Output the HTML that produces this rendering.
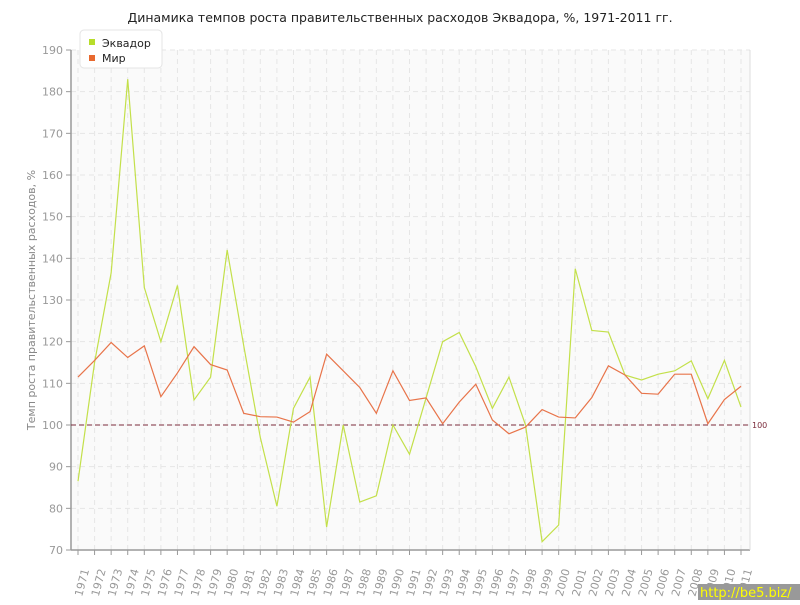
<!DOCTYPE html>
<html><head><meta charset="utf-8"><style>
body{margin:0;background:#fff;}
svg text{font-family:"DejaVu Sans","Liberation Sans",sans-serif;}
</style></head><body>
<svg id="s" width="800" height="600" xmlns="http://www.w3.org/2000/svg">
<rect width="800" height="600" fill="#fff"/>
<rect x="71" y="50" width="679" height="500" fill="#fafafa"/>
<g id="grid"></g>
<line x1="71" y1="50" x2="71" y2="550" stroke="#999" stroke-width="1.5"/>
<line x1="71" y1="550" x2="750" y2="550" stroke="#999" stroke-width="1.5"/>
<line x1="750" y1="50" x2="750" y2="550" stroke="#ddd"/>
<line x1="71" y1="425" x2="750" y2="425" stroke="#7a2a3a" stroke-dasharray="5,3"/>
<text x="752" y="428" font-size="8" fill="#7a2a3a">100</text>
<g id="series"></g>
<text x="400" y="22" font-size="12.5" text-anchor="middle" fill="#222">Динамика темпов роста правительственных расходов Эквадора, %, 1971-2011 гг.</text>
<text transform="translate(35,300) rotate(-90)" font-size="11" text-anchor="middle" fill="#888">Темп роста правительственных расходов, %</text>
<rect x="80" y="30" width="82" height="38" rx="4" fill="#fff" stroke="#e4e4e4"/>
<rect x="89" y="39" width="6" height="6" fill="#b7dd2a"/>
<text x="102" y="47" font-size="11" fill="#222">Эквадор</text>
<rect x="89" y="55" width="6" height="6" fill="#e8692f"/>
<text x="102" y="62" font-size="11" fill="#222">Мир</text>
<rect x="698" y="584" width="102" height="16" fill="#999"/>
<text x="700" y="597" font-size="13" fill="#ff0">http://be5.biz/</text>
</svg>
<script>
var e=[86.5,115,136.5,183,133,120,133.5,106,111.5,142,119,97,80.5,104,111.5,75.5,100,81.5,83,100,93,106.5,120,122.2,114,104,111.5,100,72,76,137.5,122.7,122.3,112,110.8,112.2,113,115.4,106.3,115.5,104.3];
var w=[111.5,115.5,119.8,116.2,119,106.8,112.5,118.8,114.5,113.2,102.8,102,101.9,100.7,103.2,117,113,109,102.8,113,105.9,106.5,100.3,105.5,109.8,101.2,97.9,99.5,103.7,101.9,101.7,106.6,114.2,112,107.6,107.4,112.2,112.2,100.3,106.1,109.3];
function X(i){return 78+i*16.575;}function Y(v){return 550-(v-70)*500/120;}
var g='',ns='';
for(var v=70;v<=190;v+=10){var y=Y(v);if(v>70)g+='<line x1="71" x2="750" y1="'+y+'" y2="'+y+'" stroke="#e6e6e6" stroke-dasharray="5,4"/>';g+='<line x1="66" x2="71" y1="'+y+'" y2="'+y+'" stroke="#999"/><text x="63" y="'+(y+4)+'" font-size="11" fill="#999" text-anchor="end">'+v+'</text>';}
for(var i=0;i<41;i++){var x=X(i);g+='<line x1="'+x+'" x2="'+x+'" y1="50" y2="550" stroke="#e6e6e6" stroke-dasharray="5,4"/><line x1="'+x+'" x2="'+x+'" y1="550" y2="555" stroke="#999"/><text transform="translate('+(x+4)+',597) rotate(-75)" font-size="11" fill="#999">'+(1971+i)+'</text>';}
document.getElementById('grid').innerHTML=g;
function pl(a,c){return '<polyline fill="none" stroke="'+c+'" stroke-width="1.2" points="'+a.map(function(v,i){return X(i)+','+Y(v)}).join(' ')+'"/>';}
document.getElementById('series').innerHTML=pl(e,'#c3e04a')+pl(w,'#e8744a');
</script>
</body></html>
